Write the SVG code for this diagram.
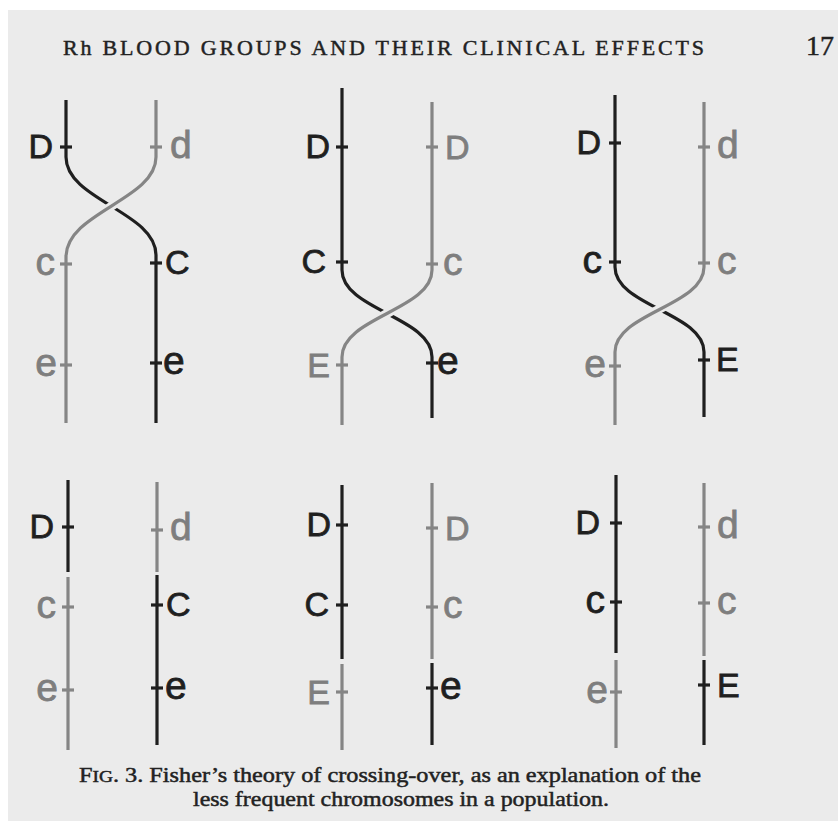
<svg xmlns="http://www.w3.org/2000/svg" width="838" height="821" viewBox="0 0 838 821">
<style>
.k{stroke:#1f1f1f;stroke-width:3.2;fill:none}
.g{stroke:#858585;stroke-width:3.2;fill:none}
.halo{stroke:#ebebeb;stroke-width:9;fill:none}
.lk{font-family:"Liberation Sans","DejaVu Sans",sans-serif;fill:#1f1f1f;stroke:#1f1f1f;stroke-width:0.8}
.lg{font-family:"Liberation Sans","DejaVu Sans",sans-serif;fill:#7e7e7e;stroke:#7e7e7e;stroke-width:0.8}
.cap{font-size:34px}
.low{font-size:39px}
.l{text-anchor:end}
.serif{font-family:"Liberation Serif","Times New Roman",serif;fill:#222;stroke:#222;stroke-width:0.45}
</style>
<rect x="0" y="0" width="838" height="821" fill="#ffffff"/>
<rect x="8" y="10" width="830" height="811" fill="#ebebeb"/>

<g id="header">
<text class="serif" x="63" y="55" font-size="22" textLength="641" lengthAdjust="spacing">Rh BLOOD GROUPS AND THEIR CLINICAL EFFECTS</text>
<text class="serif" x="806" y="55" font-size="28">17</text>
</g>

<!-- Top row: crossing-over -->
<g id="fig1">
<path class="k" d="M66,100 V157 C66,200 156,212 156,255 V423"/>
<path class="halo" d="M124,198 L98,215"/>
<path class="g" d="M156,100 V157 C156,200 66,212 66,257 V423"/>
<path class="k" d="M60,147 H72"/>
<path class="g" d="M150,147 H162"/>
<path class="g" d="M60,264 H72"/>
<path class="k" d="M150,263 H162"/>
<path class="g" d="M60,365 H72"/>
<path class="k" d="M150,363 H162"/>
<text class="lk cap l" x="53" y="158">D</text>
<text class="lg low" x="170" y="158">d</text>
<text class="lg low l" x="55" y="275">c</text>
<text class="lk cap" x="165" y="274">C</text>
<text class="lg low l" x="57" y="376">e</text>
<text class="lk low" x="163" y="374">e</text>
</g>

<g id="fig2">
<path class="k" d="M342,88 V270 C342,310 432,317 432,357 V418"/>
<path class="halo" d="M400,306 L374,321"/>
<path class="g" d="M432,102 V270 C432,310 342,317 342,357 V425"/>
<path class="k" d="M336,147 H348"/>
<path class="g" d="M426,147 H438"/>
<path class="k" d="M336,262 H348"/>
<path class="g" d="M426,264 H438"/>
<path class="g" d="M336,365 H348"/>
<path class="k" d="M426,363 H438"/>
<text class="lk cap l" x="330" y="158">D</text>
<text class="lg cap" x="445" y="159">D</text>
<text class="lk cap l" x="326" y="273">C</text>
<text class="lg low" x="443" y="275">c</text>
<text class="lg cap l" x="330" y="377">E</text>
<text class="lk low" x="437" y="374">e</text>
</g>

<g id="fig3">
<path class="k" d="M615,95 V267 C615,306 704,313 704,352 V417"/>
<path class="halo" d="M673,302 L646,316"/>
<path class="g" d="M704,102 V267 C704,306 615,313 615,352 V425"/>
<path class="k" d="M609,143 H621"/>
<path class="g" d="M698,147 H710"/>
<path class="k" d="M609,262 H621"/>
<path class="g" d="M698,263 H710"/>
<path class="g" d="M609,366 H621"/>
<path class="k" d="M698,360 H710"/>
<text class="lk cap l" x="601" y="154">D</text>
<text class="lg low" x="717" y="158">d</text>
<text class="lk low l" x="602" y="273">c</text>
<text class="lg low" x="717" y="274">c</text>
<text class="lg low l" x="606" y="377">e</text>
<text class="lk cap" x="716" y="371">E</text>
</g>

<!-- Bottom row: resulting chromosomes -->
<g id="fig4">
<path class="k" d="M68,480 V572"/>
<path class="g" d="M68,577 V750"/>
<path class="g" d="M157,482 V572"/>
<path class="k" d="M157,575 V745"/>
<path class="k" d="M62,527 H74"/>
<path class="g" d="M151,530 H163"/>
<path class="g" d="M62,607 H74"/>
<path class="k" d="M151,605 H163"/>
<path class="g" d="M62,690 H74"/>
<path class="k" d="M151,688 H163"/>
<text class="lk cap l" x="54" y="538">D</text>
<text class="lg low" x="170" y="540">d</text>
<text class="lg low l" x="56" y="618">c</text>
<text class="lk cap" x="166" y="616">C</text>
<text class="lg low l" x="58" y="701">e</text>
<text class="lk low" x="165" y="699">e</text>
</g>

<g id="fig5">
<path class="k" d="M342,485 V659"/>
<path class="g" d="M342,664 V750"/>
<path class="g" d="M432,483 V659"/>
<path class="k" d="M432,663 V745"/>
<path class="k" d="M336,525 H348"/>
<path class="g" d="M426,528 H438"/>
<path class="k" d="M336,605 H348"/>
<path class="g" d="M426,607 H438"/>
<path class="g" d="M336,692 H348"/>
<path class="k" d="M426,688 H438"/>
<text class="lk cap l" x="331" y="536">D</text>
<text class="lg cap" x="445" y="540">D</text>
<text class="lk cap l" x="329" y="616">C</text>
<text class="lg low" x="443" y="618">c</text>
<text class="lg cap l" x="330" y="704">E</text>
<text class="lk low" x="440" y="699">e</text>
</g>

<g id="fig6">
<path class="k" d="M616,475 V653"/>
<path class="g" d="M616,660 V748"/>
<path class="g" d="M704,483 V656"/>
<path class="k" d="M704,660 V745"/>
<path class="k" d="M610,523 H622"/>
<path class="g" d="M698,527 H710"/>
<path class="k" d="M610,602 H622"/>
<path class="g" d="M698,603 H710"/>
<path class="g" d="M610,692 H622"/>
<path class="k" d="M698,685 H710"/>
<text class="lk cap l" x="600" y="534">D</text>
<text class="lg low" x="717" y="538">d</text>
<text class="lk low l" x="605" y="613">c</text>
<text class="lg low" x="717" y="614">c</text>
<text class="lg low l" x="608" y="703">e</text>
<text class="lk cap" x="717" y="697">E</text>
</g>

<g id="connectors"></g>

<g id="caption">
<text class="serif" x="79" y="782" font-size="20" textLength="622" lengthAdjust="spacingAndGlyphs">F<tspan font-size="16">IG</tspan>. 3. Fisher’s theory of crossing-over, as an explanation of the</text>
<text class="serif" x="193" y="806" font-size="20" textLength="416" lengthAdjust="spacingAndGlyphs">less frequent chromosomes in a population.</text>
</g>
</svg>
